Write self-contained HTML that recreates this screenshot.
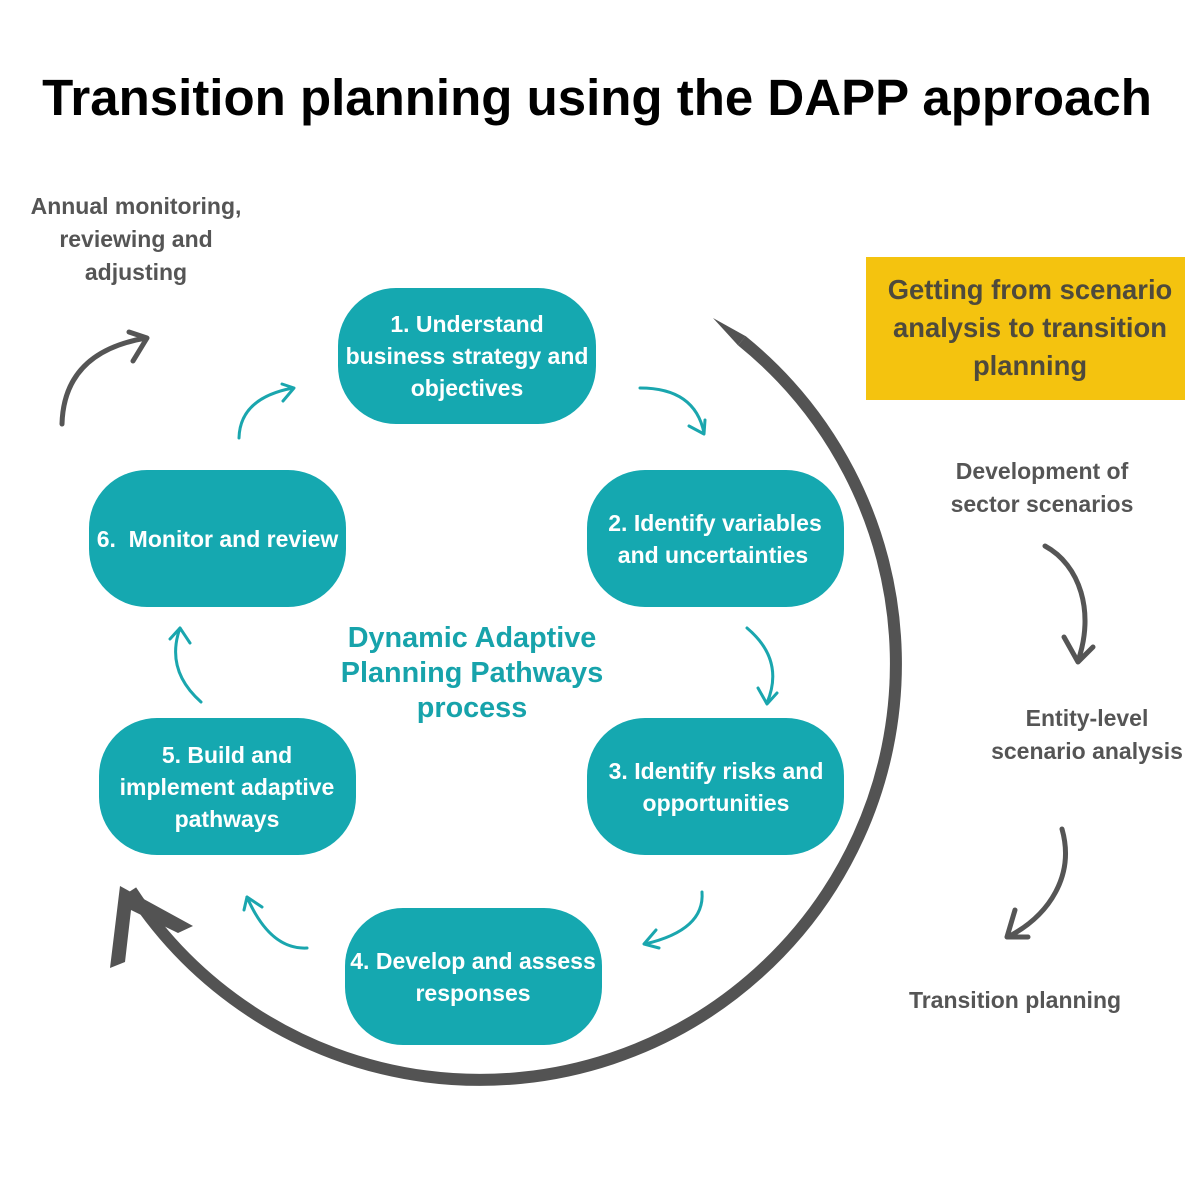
<!DOCTYPE html>
<html>
<head>
<meta charset="utf-8">
<style>
html,body{margin:0;padding:0;background:#fff;}
svg{display:block;}
text{font-family:"Liberation Sans",Arial,sans-serif;font-weight:bold;}
</style>
</head>
<body>
<svg width="1200" height="1200" viewBox="0 0 1200 1200" xmlns="http://www.w3.org/2000/svg">
<rect width="1200" height="1200" fill="#fff"/>

<!-- Title -->
<text x="597" y="115" font-size="51" fill="#000" text-anchor="middle">Transition planning using the DAPP approach</text>

<!-- Left text -->
<g font-size="23" fill="#555" text-anchor="middle">
<text x="136" y="214">Annual monitoring,</text>
<text x="136" y="247">reviewing and</text>
<text x="136" y="280">adjusting</text>
</g>

<!-- Annual arrow -->
<g stroke="#555" stroke-width="5" fill="none" stroke-linecap="round" stroke-linejoin="round">
<path d="M62,424 Q64,352 146,338"/>
<path d="M129,332 L147,338 L133,361"/>
</g>

<!-- Big arc -->
<path d="M741.8,340.7 A416,416 0 1 1 131.1,890.6" stroke="#535353" stroke-width="12" fill="none"/>
<polygon points="713,318 745.6,336.1 738,345.4" fill="#535353"/>
<polygon points="120,886 193,926 178,933 131,910 125,962 110,968" fill="#535353"/>

<!-- Teal boxes -->
<g fill="#15a8b0">
<rect x="338" y="288" width="258" height="136" rx="58" ry="58"/>
<rect x="587" y="470" width="257" height="137" rx="58" ry="58"/>
<rect x="587" y="718" width="257" height="137" rx="58" ry="58"/>
<rect x="345" y="908" width="257" height="137" rx="58" ry="58"/>
<rect x="99" y="718" width="257" height="137" rx="58" ry="58"/>
<rect x="89" y="470" width="257" height="137" rx="58" ry="58"/>
</g>

<g font-size="23" fill="#fff" text-anchor="middle">
<text x="467" y="332">1. Understand</text>
<text x="467" y="364">business strategy and</text>
<text x="467" y="396">objectives</text>

<text x="715" y="531">2. Identify variables</text>
<text x="713" y="563">and uncertainties</text>

<text x="716" y="779">3. Identify risks and</text>
<text x="716" y="811">opportunities</text>

<text x="473" y="969">4. Develop and assess</text>
<text x="473" y="1001">responses</text>

<text x="227" y="763">5. Build and</text>
<text x="227" y="795">implement adaptive</text>
<text x="227" y="827">pathways</text>

<text x="217.5" y="547" xml:space="preserve">6.&#160; Monitor and review</text>
</g>

<!-- Center text -->
<g font-size="28.8" fill="#17a3ab" text-anchor="middle">
<text x="472" y="647">Dynamic Adaptive</text>
<text x="472" y="682">Planning Pathways</text>
<text x="472" y="717">process</text>
</g>

<!-- Teal small arrows -->
<g stroke="#1aa6ae" stroke-width="3" fill="none" stroke-linecap="round" stroke-linejoin="round">
<path d="M239,438 Q240,398 293,388"/>
<path d="M282,384 L294,388 L283,401"/>
<path d="M640,388 Q695,388 704,433"/>
<path d="M689,426 L704,434 L705,420"/>
<path d="M747,628 Q785,660 767,703"/>
<path d="M758,688 L767,704 L777,693"/>
<path d="M702,892 Q705,930 645,944"/>
<path d="M656,930 L644,944 L659,948"/>
<path d="M307,948 Q270,950 247,897"/>
<path d="M244,910 L247,897 L262,907"/>
<path d="M201,702 Q165,670 180,628"/>
<path d="M170,639 L180,628 L190,643"/>
</g>

<!-- Yellow box -->
<rect x="866" y="257" width="319" height="143" fill="#f4c30f"/>
<g font-size="27.4" fill="#4e4a3c" text-anchor="middle">
<text x="1030" y="299">Getting from scenario</text>
<text x="1030" y="337">analysis to transition</text>
<text x="1030" y="375">planning</text>
</g>

<!-- Right column text -->
<g font-size="23" fill="#555" text-anchor="middle">
<text x="1042" y="479">Development of</text>
<text x="1042" y="512">sector scenarios</text>
<text x="1087" y="726">Entity-level</text>
<text x="1087" y="759">scenario analysis</text>
<text x="1015" y="1008">Transition planning</text>
</g>

<!-- Right gray arrows -->
<g stroke="#555" stroke-width="5" fill="none" stroke-linecap="round" stroke-linejoin="round">
<path d="M1045,546 C1080,565 1095,612 1078,661"/>
<path d="M1064,637 L1078,662 L1093,647"/>
<path d="M1062,829 C1075,875 1050,915 1008,937"/>
<path d="M1015,910 L1007,937 L1028,937"/>
</g>
</svg>
</body>
</html>
